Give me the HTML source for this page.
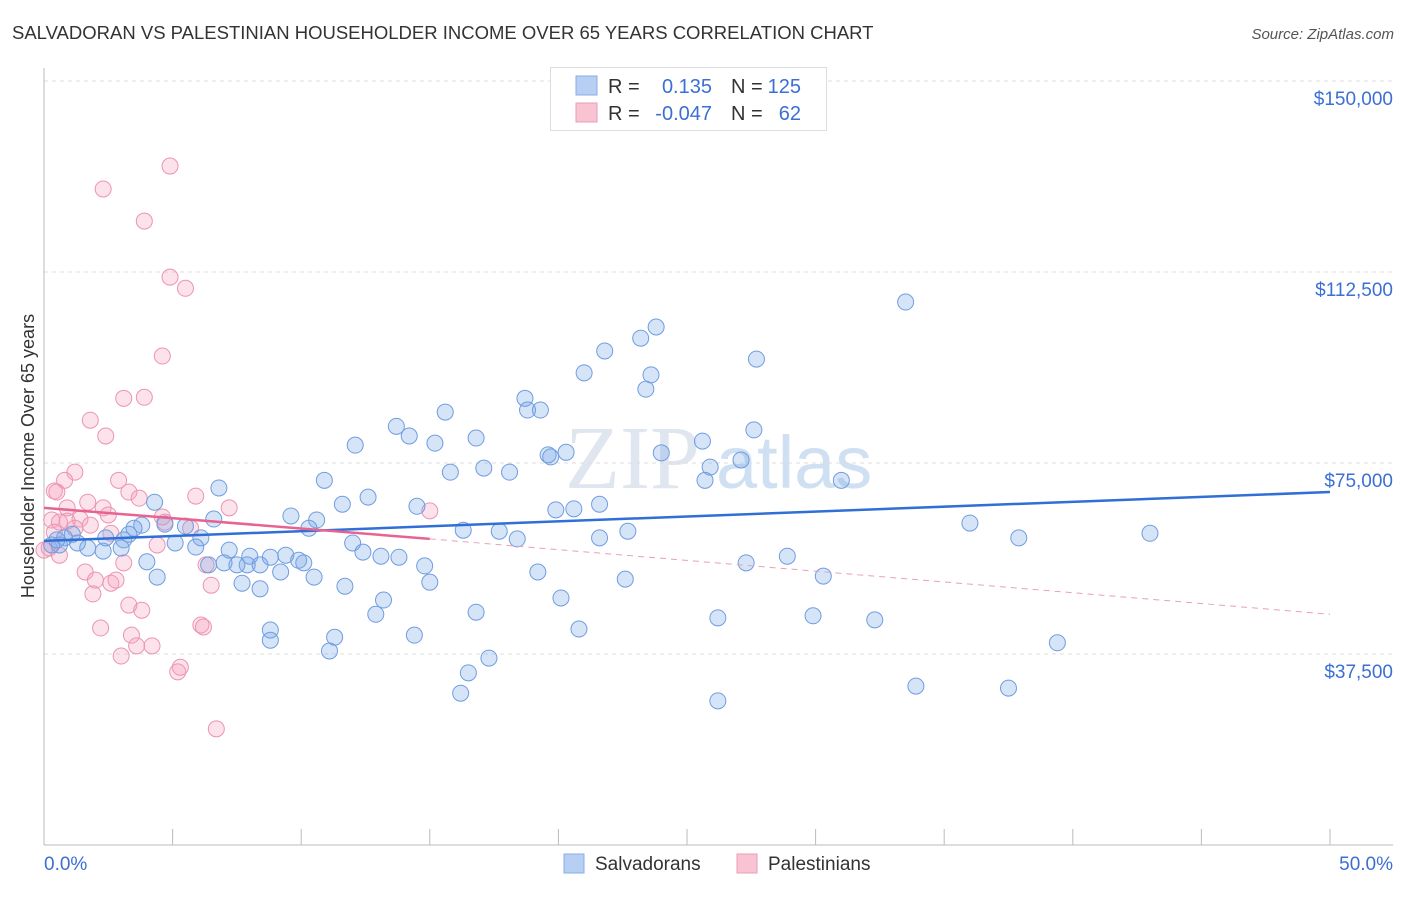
<!DOCTYPE html>
<html><head><meta charset="utf-8"><style>
body{margin:0;background:#fff;font-family:"Liberation Sans",sans-serif;}
</style></head><body>
<svg id="c" width="1406" height="892" xmlns="http://www.w3.org/2000/svg">
<text x="12" y="39" font-size="18.5" fill="#333">SALVADORAN VS PALESTINIAN HOUSEHOLDER INCOME OVER 65 YEARS CORRELATION CHART</text>
<text x="1394" y="39" font-size="15" fill="#555" font-style="italic" text-anchor="end">Source: ZipAtlas.com</text>
<text x="700" y="488" font-size="90" fill="#dfe6ef" text-anchor="end" font-family="Liberation Serif, serif">ZIP</text>
<text x="716" y="488" font-size="74" fill="#cfe0f3">atlas</text>
<g id="grid"></g>
<g id="axes"></g>
<g id="marks"></g>
<text transform="translate(34,456) rotate(-90)" font-size="18" fill="#333" text-anchor="middle">Householder Income Over 65 years</text>
<g>
<rect x="550.5" y="67.5" width="276" height="63" fill="#fff" stroke="#ddd"/>
<rect x="576" y="76" width="21" height="19" fill="#b7cff3" stroke="#89aee6"/>
<rect x="576" y="103" width="21" height="19" fill="#f8c4d4" stroke="#ec9db7"/>
<text x="608" y="93" font-size="20" fill="#333">R = </text><text x="712" y="93" font-size="20" fill="#3b6fd4" text-anchor="end">0.135</text>
<text x="731" y="93" font-size="20" fill="#333">N = </text><text x="801" y="93" font-size="20" fill="#3b6fd4" text-anchor="end">125</text>
<text x="608" y="120" font-size="20" fill="#333">R = </text><text x="712" y="120" font-size="20" fill="#3b6fd4" text-anchor="end">-0.047</text>
<text x="731" y="120" font-size="20" fill="#333">N = </text><text x="801" y="120" font-size="20" fill="#3b6fd4" text-anchor="end">62</text>
</g>
<g>
<rect x="564" y="854" width="20" height="19" fill="#b7cff3" stroke="#89aee6"/>
<text x="595" y="870" font-size="19" fill="#333">Salvadorans</text>
<rect x="737" y="854" width="20" height="19" fill="#f8c4d4" stroke="#ec9db7"/>
<text x="768" y="870" font-size="19" fill="#333">Palestinians</text>
</g>
</svg>
<script>
const yTicks=[37500,75000,112500,150000];
const yTickLabels=["$37,500","$75,000","$112,500","$150,000"];
const xTickVals=[0,5,10,15,20,25,30,35,40,45,50];
const blueX=[33.5,23.8,23.2,21.8,27.7,21.0,23.6,23.4,18.7,19.3,18.8,15.6,13.7,27.6,14.2,12.1,15.2,16.8,25.6,19.6,20.3,19.7,24.0,27.1,25.9,15.8,17.1,18.1,25.7,31.0,10.9,6.8,12.6,11.6,14.5,21.6,20.6,19.9,36.0,43.0,37.9,22.7,16.3,17.7,18.4,21.6,9.6,10.6,10.3,4.3,6.6,4.7,5.5,3.8,3.5,6.1,5.1,5.9,3.1,3.0,2.3,1.7,1.3,0.8,0.6,0.3,0.5,1.1,2.4,3.3,7.2,8.0,8.8,9.4,9.9,12.0,12.4,13.1,13.8,14.8,10.1,7.9,7.5,8.4,6.4,7.0,4.0,4.4,7.7,8.4,9.2,10.5,11.7,13.2,12.9,15.0,19.2,20.1,22.6,27.3,28.9,30.3,29.9,32.3,26.2,20.8,8.8,8.8,11.3,11.1,14.4,16.8,17.3,16.5,16.2,26.2,33.9,37.5,39.4];
const blueY=[106.6,101.7,99.5,97.0,95.4,92.7,92.3,89.5,87.7,85.4,85.4,85.0,82.2,81.5,80.3,78.5,78.9,79.9,79.3,76.6,77.1,76.2,77.0,75.6,74.2,73.2,74.0,73.2,71.6,71.6,71.6,70.1,68.3,66.9,66.5,66.9,66.0,65.8,63.2,61.2,60.3,61.6,61.8,61.6,60.1,60.3,64.6,63.8,62.2,67.3,64.0,63.0,62.6,62.8,62.2,60.3,59.3,58.5,59.9,58.3,57.7,58.3,59.3,60.3,58.9,58.9,59.9,61.0,60.3,61.0,57.9,56.7,56.5,56.9,55.9,59.3,57.5,56.7,56.5,54.8,55.4,55.0,55.0,55.0,55.0,55.4,55.6,52.6,51.4,50.3,53.6,52.6,50.8,48.1,45.3,51.6,53.6,48.5,52.2,55.4,56.7,52.8,45.0,44.2,44.6,42.4,42.2,40.2,40.8,38.1,41.2,45.7,36.7,33.8,29.8,28.3,31.2,30.8,39.7];
const pinkX=[4.9,2.3,3.9,4.9,5.5,4.6,3.9,3.1,1.8,2.4,1.2,2.9,0.8,0.4,0.5,1.7,3.3,3.7,7.2,5.9,0.9,2.3,2.5,1.4,0.3,0.6,0.4,1.2,0.9,1.8,4.6,5.7,4.4,2.6,4.7,15.0,3.1,1.6,2.0,1.9,2.6,2.8,6.3,6.5,3.3,3.8,2.2,6.1,6.2,3.4,3.6,4.2,3.0,5.3,5.2,6.7,0.0,0.2,0.6];
const pinkY=[133.3,128.8,122.5,111.5,109.3,96.0,87.9,87.7,83.4,80.3,73.2,71.6,71.6,69.5,69.3,67.3,69.3,68.1,66.2,68.5,66.2,66.2,64.8,64.0,63.8,63.4,61.4,62.2,63.6,62.8,64.4,62.2,58.9,61.2,63.4,65.6,55.4,53.6,52.0,49.3,51.4,52.0,55.0,51.0,47.1,46.1,42.6,43.2,42.8,41.2,39.1,39.1,37.1,34.9,34.0,22.8,57.9,58.3,56.9];
const blueTrend=[[0,59.7],[50,69.3]];
const pinkSolid=[[0,66.2],[15,60.1]];
const pinkDash=[[15,60.1],[50,45.3]];
const NS="http://www.w3.org/2000/svg";
const sx=v=>44+v*25.72;
const sy=v=>845-v*(191/37.5);
function mk(tag,attrs,parent){const e=document.createElementNS(NS,tag);for(const k in attrs)e.setAttribute(k,attrs[k]);parent.appendChild(e);return e;}
const gridG=document.getElementById('grid'),axesG=document.getElementById('axes'),marksG=document.getElementById('marks');
yTicks.forEach((t,i)=>{
 const y=sy(t/1000);
 const l=mk('line',{x1:44,x2:1393,y1:y,y2:y,stroke:'#ddd','stroke-dasharray':'4,4'},gridG);
 
 
 const tx=mk('text',{x:1393,y:y+24,'font-size':19,fill:'#3b6fd4','text-anchor':'end'},axesG);
 tx.textContent=yTickLabels[i];
 
 
});
mk('line',{x1:44,x2:44,y1:68,y2:845,stroke:'#bbb'},axesG);
mk('line',{x1:44,x2:1393,y1:845,y2:845,stroke:'#bbb'},axesG);
xTickVals.forEach(v=>{const t=mk('line',{x1:sx(v),x2:sx(v),y1:829,y2:845,stroke:'#bbb'},axesG);
 
 });
const xl0=mk('text',{x:44,y:870,'font-size':19,fill:'#3b6fd4'},axesG);xl0.textContent='0.0%';


const xl1=mk('text',{x:1393,y:870,'font-size':19,fill:'#3b6fd4','text-anchor':'end'},axesG);xl1.textContent='50.0%';


pinkX.forEach((v,i)=>{const c=mk('circle',{cx:sx(v),cy:sy(pinkY[i]),r:8,fill:'rgba(244,160,190,0.3)',stroke:'#ec94b2','stroke-width':1},marksG);
 
 });
blueX.forEach((v,i)=>{const c=mk('circle',{cx:sx(v),cy:sy(blueY[i]),r:8,fill:'rgba(120,165,232,0.3)',stroke:'#6f9de0','stroke-width':1},marksG);
 
 });
const bt=mk('line',{x1:sx(blueTrend[0][0]),y1:sy(blueTrend[0][1]),x2:sx(blueTrend[1][0]),y2:sy(blueTrend[1][1]),stroke:'#2f6fd6','stroke-width':2.5},marksG);


const ps=mk('line',{x1:sx(pinkSolid[0][0]),y1:sy(pinkSolid[0][1]),x2:sx(pinkSolid[1][0]),y2:sy(pinkSolid[1][1]),stroke:'#e8638f','stroke-width':2.5},marksG);


const pd=mk('line',{x1:sx(pinkDash[0][0]),y1:sy(pinkDash[0][1]),x2:sx(pinkDash[1][0]),y2:sy(pinkDash[1][1]),stroke:'#e8a0b8','stroke-width':1,'stroke-dasharray':'6,5'},marksG);


</script>
</body></html>
